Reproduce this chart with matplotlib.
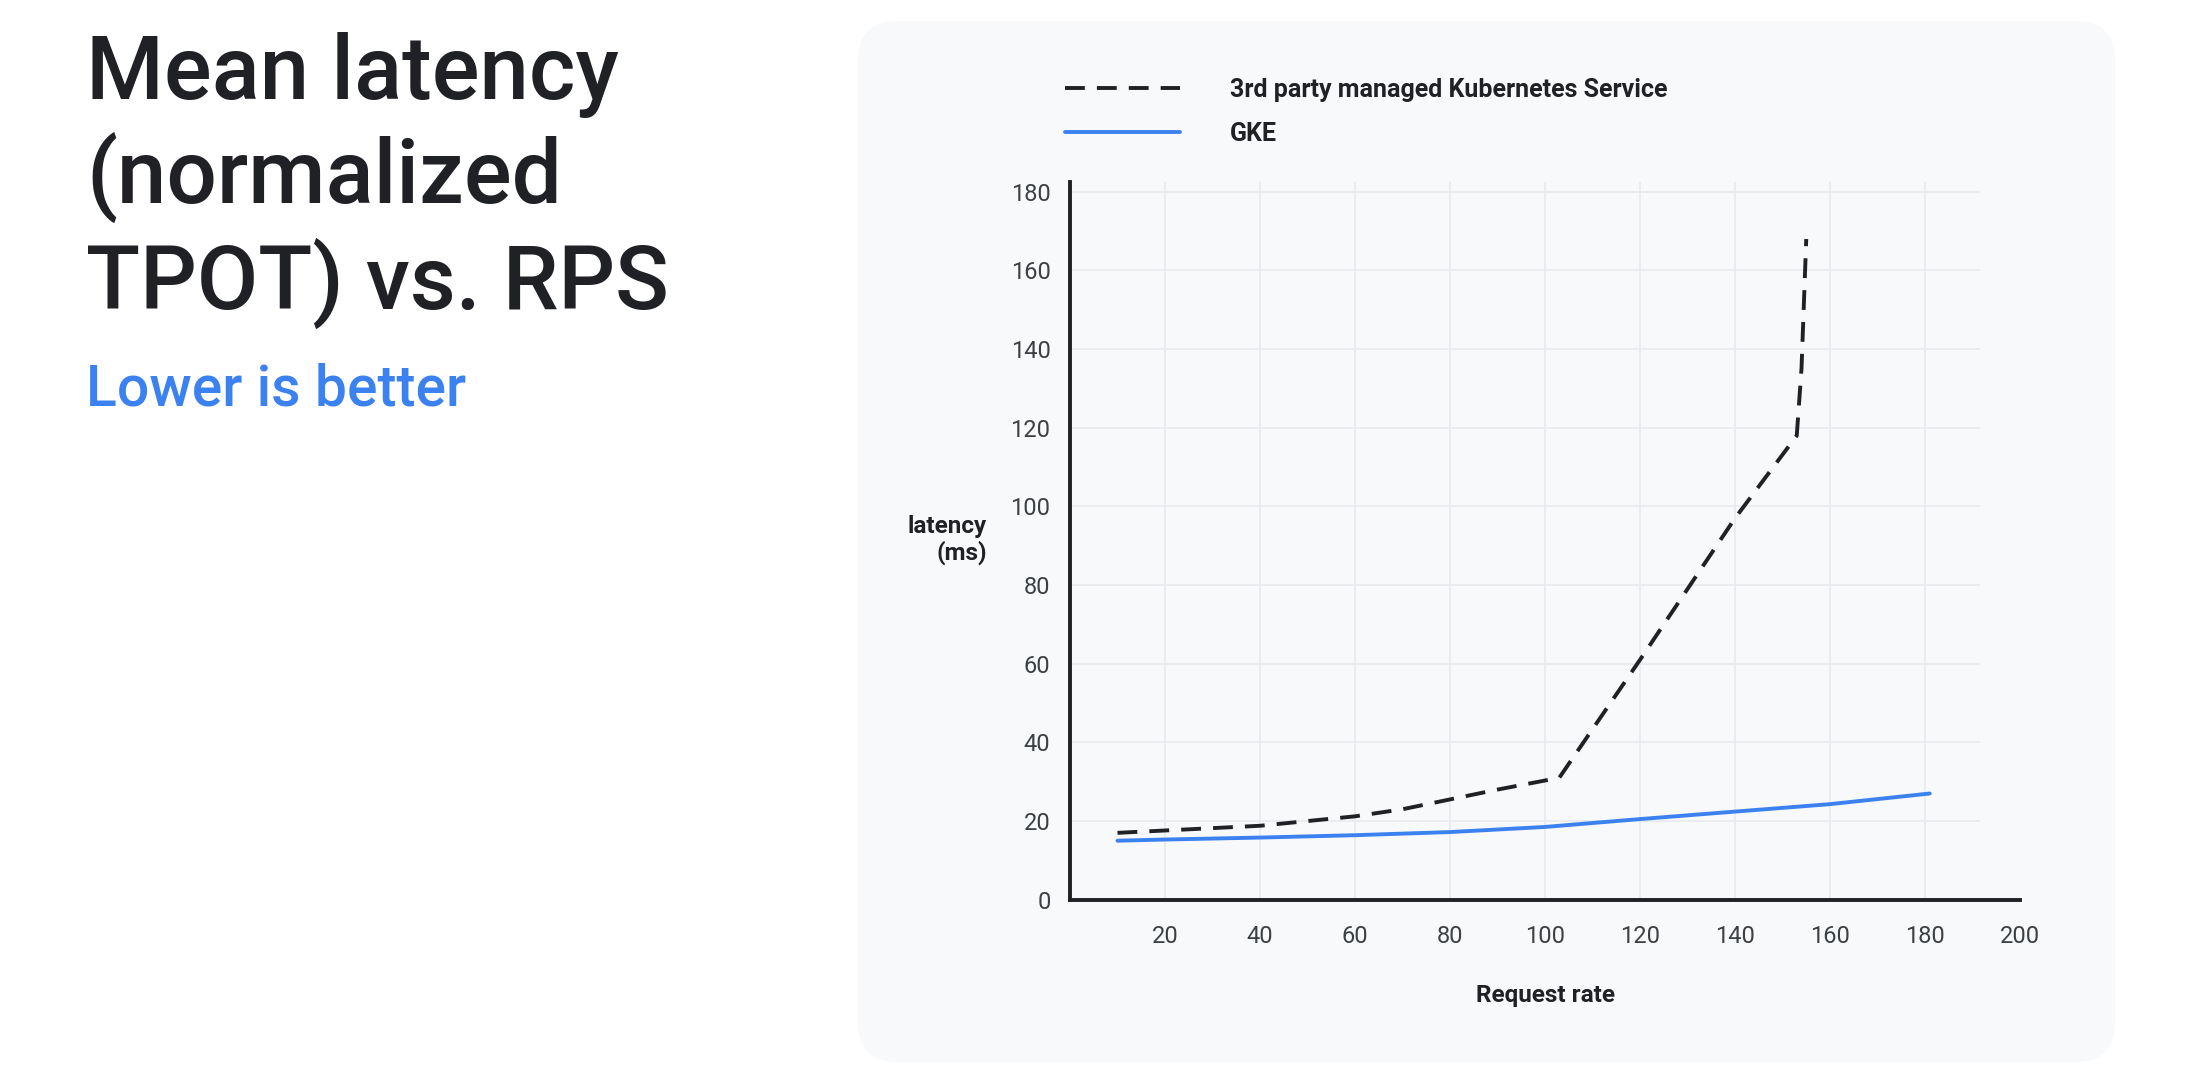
import matplotlib
matplotlib.use("Agg")
import matplotlib.pyplot as plt
from matplotlib.patches import FancyBboxPatch

# ---- data ----
third_party_x = [10, 20, 30, 40, 50, 60, 70, 80, 90, 103, 120, 140, 153, 154, 155]
third_party_y = [17, 17.6, 18.2, 18.8, 20, 21.2, 23, 25.5, 28, 31, 61, 97, 118, 135, 168]
gke_x = [10, 20, 40, 60, 80, 100, 120, 140, 160, 181]
gke_y = [15, 15.3, 15.8, 16.4, 17.2, 18.5, 20.5, 22.4, 24.3, 27]
x_ticks = [20, 40, 60, 80, 100, 120, 140, 160, 180, 200]
y_ticks = [0, 20, 40, 60, 80, 100, 120, 140, 160, 180]
series_labels = ["3rd party managed Kubernetes Service", "GKE"]
title = "Mean latency\n(normalized\nTPOT) vs. RPS"
subtitle = "Lower is better"
x_label = "Request rate"
y_label = "latency\n(ms)"

FONT = ["Roboto", "DejaVu Sans"]
plt.rcParams["font.family"] = FONT
DARK = "#202124"
BLUE = "#3b82f0"

W, H = 2200, 1083
fig = plt.figure(figsize=(W / 100, H / 100), dpi=100, facecolor="white")

# panel background
panel = FancyBboxPatch((858 / W, 1 - 1062 / H), (2115 - 858) / W, (1062 - 21) / H,
                       boxstyle="round,pad=0,rounding_size=0.018",
                       mutation_aspect=W / H, transform=fig.transFigure,
                       facecolor="#f8f9fb", edgecolor="none", zorder=-5)
fig.patches.append(panel)

fig.text(86 / W, 1 - 32 / H, title, fontsize=64, color=DARK, va="top", ha="left",
         linespacing=1.2, fontweight="medium")
fig.text(86 / W, 1 - 405 / H, subtitle, fontsize=41, color=BLUE, va="baseline", ha="left",
         fontweight="medium")

ax = fig.add_axes([1070 / W, 1 - 899.7 / H, (2020 - 1070) / W, (899.7 - 182) / H])
ax.set_zorder(2)
ax.set_facecolor("none")
ax.set_xlim(0, 200)
ax.set_ylim(0, 182.5)

for t in x_ticks[:-1]:
    ax.axvline(t, color="#e8eaee", lw=1.2, zorder=1)
for t in y_ticks[1:]:
    ax.axhline(t, xmin=0, xmax=0.957, color="#e8eaee", lw=1.2, zorder=1)

ax.plot(third_party_x, third_party_y, color=DARK, lw=2.8, dashes=(5.1, 3.1),
        label=series_labels[0], zorder=3)
ax.plot(gke_x, gke_y, color=BLUE, lw=2.8, label=series_labels[1], zorder=3,
        solid_capstyle="round")

ax.set_xticks(x_ticks)
ax.set_yticks(y_ticks)
ax.tick_params(length=0, labelsize=17, colors="#3c4043")
ax.tick_params(axis="x", pad=18)
ax.tick_params(axis="y", pad=14)
for s in ["top", "right"]:
    ax.spines[s].set_visible(False)
for s in ["left", "bottom"]:
    ax.spines[s].set_color(DARK)
    ax.spines[s].set_linewidth(2.8)

ax.set_xlabel(x_label, fontsize=17.5, fontweight="bold", color=DARK, labelpad=26)
fig.text(987 / W, 1 - 540 / H, y_label, fontsize=17.5, fontweight="bold", color=DARK,
         ha="right", va="center", multialignment="right", linespacing=1.15)

leg = ax.legend(loc="upper left", bbox_to_anchor=(1065 / W, 1 - 78 / H),
                bbox_transform=fig.transFigure, frameon=False, borderpad=0,
                borderaxespad=0, handlelength=4.6, handletextpad=2.0,
                labelspacing=0.8, prop={"size": 18, "weight": "bold"})
for t in leg.get_texts():
    t.set_color(DARK)

fig.savefig("out.png", dpi=100, facecolor="white")
